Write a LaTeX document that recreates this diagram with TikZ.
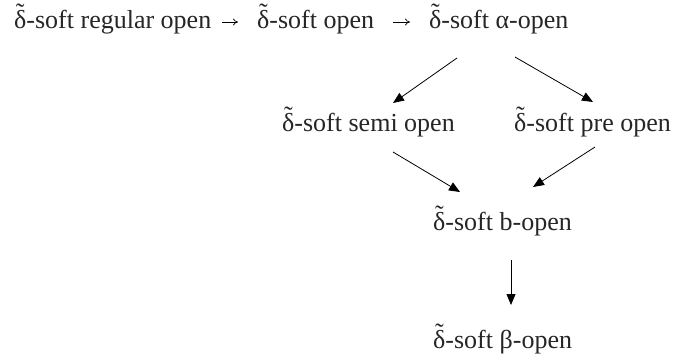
\documentclass[tikz,border=0pt]{standalone}
\usepackage{fontspec}
\setmainfont{Liberation Serif}
\usetikzlibrary{arrows.meta,calc}
\newcommand\dtil{\ooalign{δ\cr\hidewidth\raisebox{0.24em}{˜}\hidewidth\cr}}
\tikzset{
  lab/.style={inner sep=0pt, anchor=base west, font=\fontsize{26}{29}\selectfont, text=black!85},
  inl/.style={line width=0.7pt, -{To[length=5pt,width=7pt]}},
  arr/.style={line width=0.8pt, -{Triangle[length=11pt,width=9pt]}}
}
\begin{document}
\begin{tikzpicture}[x=1pt,y=1pt]
\useasboundingbox (0,0) rectangle (676,-360);
\node[lab] (reg) at (14,-28) {\dtil-soft regular open};
\node[lab] (op) at (257,-28) {\dtil-soft open};
\node[lab] (alp) at (429,-28) {\dtil-soft α-open};
\node[lab] (semi) at (282,-131) {\dtil-soft semi open};
\node[lab] (pre) at (514,-131) {\dtil-soft pre open};
\node[lab] (bop) at (433,-230) {\dtil-soft b-open};
\node[lab] (beta) at (433,-348) {\dtil-soft β-open};
\draw[inl] ($(op.base west)+(-35,6)$) -- ($(op.base west)+(-19,6)$);
\draw[inl] ($(alp.base west)+(-36,6)$) -- ($(alp.base west)+(-19,6)$);
\draw[arr] ($(alp.base west)+(28,-30)$) -- ($(semi.base west)+(111,28)$);
\draw[arr] ($(alp.base west)+(86,-29)$) -- ($(pre.base west)+(79,29)$);
\draw[arr] ($(semi.base west)+(111,-21)$) -- ($(bop.base west)+(27,38)$);
\draw[arr] ($(pre.base west)+(81,-16)$) -- ($(bop.base west)+(100,43)$);
\draw[arr] ($(bop.base west)+(78,-30)$) -- ($(beta.base west)+(78,43)$);
\end{tikzpicture}
\end{document}
